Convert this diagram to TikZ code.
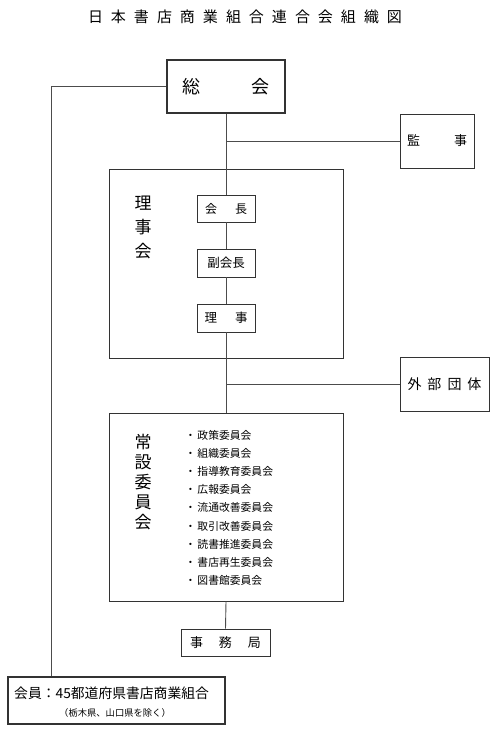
\documentclass[tikz,border=0pt]{standalone}
\usepackage{fontspec}
\newfontfamily\cjk{Noto Sans CJK JP}
\tikzset{
  box/.style={draw=black!80, line width=0.9pt, fill=white, inner sep=0pt, font=\cjk},
  conn/.style={draw=black!70, line width=0.9pt},
}
\newcommand{\gp}[1]{\hspace{#1}}
\begin{document}
\begin{tikzpicture}[x=1pt,y=-1pt]
\useasboundingbox (0,0) rectangle (493,733);
% title
\node (title) at (245,17) {\cjk\fontsize{15}{15}\selectfont 日\gp{8pt}本\gp{8pt}書\gp{8pt}店\gp{8pt}商\gp{8pt}業\gp{8pt}組\gp{8pt}合\gp{8pt}連\gp{8pt}合\gp{8pt}会\gp{8pt}組\gp{8pt}織\gp{8pt}図};
% boxes
\node[box, line width=1.5pt, minimum width=118pt, minimum height=53pt] (soukai) at (226,86.5) {\fontsize{18}{18}\selectfont 総\gp{52pt}会};
\node[box, minimum width=74pt, minimum height=54pt] (kanji) at (437,141) {\fontsize{13}{13}\selectfont 監\gp{34pt}事};
\node[box, minimum width=234pt, minimum height=189pt] (rijikai) at (226,263.5) {};
\node[font=\cjk\fontsize{17}{24}\selectfont, align=center] (rijikailbl) at (143,227) {理\\事\\会};
\node[box, minimum width=58pt, minimum height=27pt] (kaicho) at (226,208.5) {\fontsize{12}{12}\selectfont 会\gp{18pt}長};
\node[box, minimum width=58pt, minimum height=28pt] (fuku) at (226,263) {\fontsize{12.5}{12.5}\selectfont 副会長};
\node[box, minimum width=58pt, minimum height=28pt] (riji) at (226,318) {\fontsize{12.5}{12.5}\selectfont 理\gp{18pt}事};
\node[box, minimum width=89pt, minimum height=54pt] (gaibu) at (444.5,384) {\fontsize{14}{14}\selectfont 外\gp{6pt}部\gp{6pt}団\gp{6pt}体};
\node[box, minimum width=234pt, minimum height=188pt] (josetsu) at (226,507) {};
\node[font=\cjk\fontsize{17}{20}\selectfont, align=center] (josetsulbl) at (143,482) {常\\設\\委\\員\\会};
\foreach \t [count=\i] in {政策委員会,組織委員会,指導教育委員会,広報委員会,流通改善委員会,取引改善委員会,読書推進委員会,書店再生委員会,図書館委員会}{
  \node[anchor=west, inner sep=0pt, font=\cjk\fontsize{10.8}{10.8}\selectfont] (item\i) at (185,{435+18.2*(\i-1)}) {・\gp{1.5pt}\t};
}
\node[box, minimum width=89pt, minimum height=27pt] (jimu) at (225.5,642.5) {\fontsize{13}{13}\selectfont 事\gp{16pt}務\gp{16pt}局};
\node[box, line width=1.3pt, minimum width=217pt, minimum height=47pt] (kaiin) at (116.5,700.5) {};
\node[anchor=west, inner sep=0pt, font=\cjk\fontsize{13.8}{13.8}\selectfont] (kaiinlbl) at (14,693) {会員：45都道府県書店商業組合};
\node[inner sep=0pt, font=\cjk\fontsize{9.3}{9.3}\selectfont] (kaiinsub) at (115,713) {（栃木県、山口県を除く）};
% connectors
\coordinate (b1) at (226,141);
\coordinate (b2) at (226,384);
\coordinate (lc) at (51,86.5);
\draw[conn] (soukai.south) -- (kaicho.north);
\draw[conn] (kaicho.south) -- (fuku.north);
\draw[conn] (fuku.south) -- (riji.north);
\draw[conn] (riji.south) -- (josetsu.north);
\draw[conn] (josetsu.south) -- (jimu.north);
\draw[conn] (b1) -- (kanji.west);
\draw[conn] (b2) -- (gaibu.west);
\draw[conn] (soukai.west) -- (lc) -- (lc |- kaiin.north);
\end{tikzpicture}
\end{document}
